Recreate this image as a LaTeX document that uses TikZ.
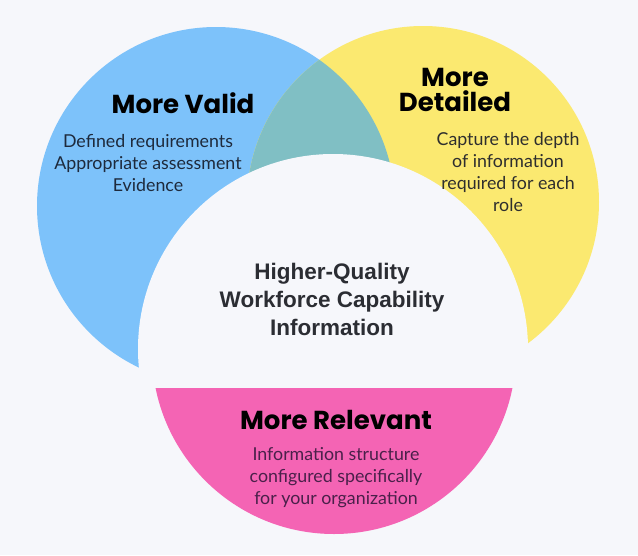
\documentclass[tikz,border=0pt]{standalone}
\usepackage{fontspec}
\setmainfont{Lato}
\newfontfamily\headfont{Poppins}
\newfontfamily\centrefont{Liberation Sans}
\usetikzlibrary{positioning}
\definecolor{bg}{RGB}{246,247,251}
\definecolor{validc}{RGB}{125,194,250}
\definecolor{detailc}{RGB}{251,233,112}
\definecolor{overlapc}{RGB}{128,191,196}
\definecolor{relevc}{RGB}{244,100,180}
\definecolor{validtxt}{RGB}{30,42,60}
\definecolor{detailtxt}{RGB}{46,46,46}
\definecolor{relevtxt}{RGB}{74,32,74}
\definecolor{centretxt}{RGB}{43,45,51}

\begin{document}
\begin{tikzpicture}[x=1pt,y=-1pt,
  head/.style={font=\headfont\bfseries\fontsize{26}{25}\selectfont,align=center,inner sep=0pt},
  body/.style={font=\fontsize{17.8}{22}\selectfont,align=center,inner sep=0pt}]
% background and the three circles
\fill[bg] (0,0) rectangle (638,555);
\fill[validc] (216,206) circle[radius=179];
\fill[detailc] (423,202) circle[radius=176];
\begin{scope}
  \clip (216,206) circle[radius=179];
  \fill[overlapc] (423,202) circle[radius=176];
\end{scope}
\fill[bg] (333,349) circle[radius=195];
\begin{scope}
  \clip (0,388) rectangle (638,555);
  \fill[relevc] (334,352) circle[radius=182];
\end{scope}
% labels
\node[head] (valid) at (183,103) {More Valid};
\node[body,text=validtxt,below=20pt of valid,xshift=-35pt] (validtext) {Defined requirements\\Appropriate assessment\\Evidence};
\node[head] (detailed) at (455,90) {More\\Detailed};
\node[body,text=detailtxt,below=20pt of detailed,xshift=53pt] (detailtext) {Capture the depth\\of information\\required for each\\role};
\node[font=\centrefont\bfseries\fontsize{22.5}{28}\selectfont,text=centretxt,align=center,inner sep=0pt] (core) at (332,299) {Higher-Quality\\Workforce Capability\\Information};
\node[head] (relevant) at (336,420) {More Relevant};
\node[body,text=relevtxt,below=17pt of relevant] (relevtext) {Information structure\\configured specifically\\for your organization};
\end{tikzpicture}
\end{document}
